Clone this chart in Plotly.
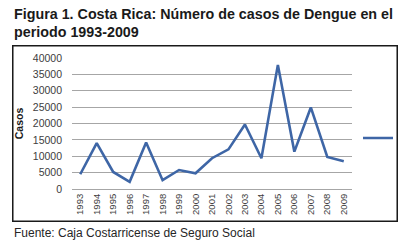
import plotly.graph_objects as go

years = [str(y) for y in range(1993, 2010)]
casos = [4500, 14000, 5200, 2200, 14200, 2700, 5800, 4800, 9400, 12100,
         19700, 9400, 37900, 11400, 24900, 9800, 8500]
y_ticks = [0, 5000, 10000, 15000, 20000, 25000, 30000, 35000, 40000]
y_tick_text = [str(v) for v in y_ticks]

title_line1 = "Figura 1. Costa Rica: Número de casos de Dengue en el"
title_line2 = "periodo 1993-2009"
source_text = "Fuente: Caja Costarricense de Seguro Social"

W, H = 408, 246
# outer frame (paper) in pixels
BL, BR, BT, BB = 12, 398, 45, 222
# plot area in pixels
PL, PR, PT, PB = 72, 352, 58, 189
bw, bh = BR - BL, BB - BT

def px_x(px):
    return (px - BL) / bw

def px_y(py):
    return (BB - py) / bh

FONT = "Liberation Sans, Arial, sans-serif"

fig = go.Figure()
fig.add_trace(go.Scatter(x=years, y=casos, mode="lines", name=" ",
                         line=dict(color="#3E66A6", width=2.6), showlegend=True))

fig.update_layout(
    width=W, height=H,
    margin=dict(l=BL, r=W - BR, t=BT, b=H - BB, autoexpand=False),
    paper_bgcolor="white", plot_bgcolor="rgba(0,0,0,0)",
    font=dict(family=FONT, color="#404040"),
    xaxis=dict(type="category", tickangle=-90, tickfont=dict(size=9.5),
               domain=[px_x(PL), px_x(PR)], anchor="y",
               showgrid=False, showline=True, linecolor="#a6a6a6", linewidth=1,
               ticks="", range=[-0.5, len(years) - 0.5]),
    yaxis=dict(range=[0, 40000], tickvals=y_ticks, ticktext=y_tick_text,
               domain=[px_y(PB), px_y(PT)], anchor="x",
               tickfont=dict(size=10.5),
               showgrid=True, gridcolor="#a6a6a6", gridwidth=1, zeroline=False,
               title=dict(text="<b>Casos</b>", font=dict(size=10.5, color="#1a1a1a"), standoff=7),
               ticks="", ticklabelstandoff=9),
    legend=dict(x=px_x(358), xanchor="left", y=px_y(138), yanchor="middle",
                itemwidth=30, bgcolor="rgba(0,0,0,0)", font=dict(size=10)),
    shapes=[dict(type="rect", xref="paper", yref="paper", x0=0.002, x1=0.998,
                 y0=0.004, y1=0.996, layer="above",
                 line=dict(color="#1a1a1a", width=1.5))],
    annotations=[
        dict(text=title_line1, xref="paper", yref="paper",
             x=px_x(12), y=px_y(14), xanchor="left", yanchor="middle",
             showarrow=False, font=dict(size=14.3, color="#1a1a1a", family=FONT, weight="bold")),
        dict(text=title_line2, xref="paper", yref="paper",
             x=px_x(12), y=px_y(32), xanchor="left", yanchor="middle",
             showarrow=False, font=dict(size=14.3, color="#1a1a1a", family=FONT, weight="bold")),
        dict(text=source_text, xref="paper", yref="paper",
             x=px_x(12), y=px_y(233), xanchor="left", yanchor="middle",
             showarrow=False, font=dict(size=12, color="#262626")),
    ],
)

# page styling: no body margin, plus a CSS outline of the chart frame
post_js = (
    "document.body.style.margin='0';"
    "var fr=document.createElement('div');"
    f"fr.style.cssText='position:absolute;left:{BL}px;top:{BT}px;width:{bw}px;height:{bh}px;"
    "border:1.5px solid #1a1a1a;box-sizing:border-box;pointer-events:none;z-index:10';"
    "document.body.appendChild(fr);"
)

fig.write_html("out.html", config={"displayModeBar": False}, post_script=post_js)
